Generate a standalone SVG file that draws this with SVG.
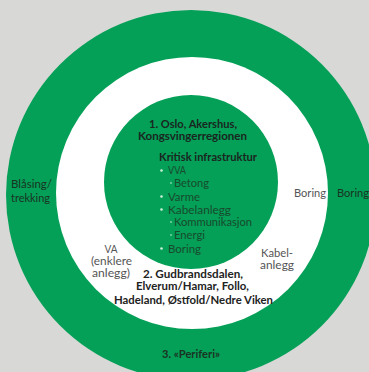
<svg xmlns="http://www.w3.org/2000/svg" width="369" height="372" viewBox="0 0 369 372">
<style>
text{font-family:Lato,"Open Sans","Liberation Sans",sans-serif;font-size:10.5px}
.b{font-weight:bold}
.h{fill:#1a261f}
.d{fill:#222}
.g{fill:#555}
.i{fill:#184a2d}
.o{fill:#1a3324}
.dot{fill:#cfeedb}
.m{text-anchor:middle}
</style>
<rect width="369" height="372" fill="#d8d8d6"/>
<g id="ring3"><circle cx="191" cy="195" r="185" fill="#04a057"/></g>
<g id="ring2"><circle cx="192" cy="193" r="136" fill="#ffffff"/></g>
<g id="ring1"><circle cx="191" cy="182" r="87" fill="#04a057"/></g>
<g id="connectors"/>
<g id="core">
<text class="b h" x="149" y="127.5" textLength="88" lengthAdjust="spacingAndGlyphs">1. Oslo, Akershus,</text>
<text class="b h" x="138" y="139.5" textLength="109" lengthAdjust="spacingAndGlyphs">Kongsvingerregionen</text>
<text class="b h" x="159" y="160.5" textLength="98" lengthAdjust="spacingAndGlyphs">Kritisk infrastruktur</text>
<circle class="dot" cx="161.5" cy="170.5" r="1.3"/>
<text class="i" x="168" y="174" textLength="18" lengthAdjust="spacingAndGlyphs">VVA</text>
<circle class="dot" cx="171" cy="183" r="0.8"/>
<text class="i" x="174" y="187" textLength="35" lengthAdjust="spacingAndGlyphs">Betong</text>
<circle class="dot" cx="161.5" cy="196.5" r="1.3"/>
<text class="i" x="168" y="200.5" textLength="32" lengthAdjust="spacingAndGlyphs">Varme</text>
<circle class="dot" cx="161.5" cy="209.5" r="1.3"/>
<text class="i" x="168" y="213.5" textLength="63" lengthAdjust="spacingAndGlyphs">Kabelanlegg</text>
<circle class="dot" cx="171" cy="222" r="0.8"/>
<text class="i" x="174" y="226" textLength="78" lengthAdjust="spacingAndGlyphs">Kommunikasjon</text>
<circle class="dot" cx="171" cy="235" r="0.8"/>
<text class="i" x="174" y="239" textLength="31" lengthAdjust="spacingAndGlyphs">Energi</text>
<circle class="dot" cx="161.5" cy="248.5" r="1.3"/>
<text class="i" x="168" y="252.5" textLength="33" lengthAdjust="spacingAndGlyphs">Boring</text>
</g>
<g id="middle">
<text class="g" x="104.5" y="252.5" textLength="13" lengthAdjust="spacingAndGlyphs">VA</text>
<text class="g" x="91" y="264.5" textLength="41" lengthAdjust="spacingAndGlyphs">(enklere</text>
<text class="g" x="92" y="277" textLength="38" lengthAdjust="spacingAndGlyphs">anlegg)</text>
<text class="g" x="294" y="197" textLength="32" lengthAdjust="spacingAndGlyphs">Boring</text>
<text class="g" x="261" y="257" textLength="32" lengthAdjust="spacingAndGlyphs">Kabel-</text>
<text class="g" x="260" y="268.5" textLength="34" lengthAdjust="spacingAndGlyphs">anlegg</text>
<text class="b d" x="143" y="277.5" textLength="100" lengthAdjust="spacingAndGlyphs">2. Gudbrandsdalen,</text>
<text class="b d" x="136" y="289.5" textLength="113" lengthAdjust="spacingAndGlyphs">Elverum/Hamar, Follo,</text>
<text class="b d" x="114" y="304" textLength="159" lengthAdjust="spacingAndGlyphs">Hadeland, Østfold/Nedre Viken</text>
</g>
<g id="outer">
<text class="o" x="11" y="188" textLength="41" lengthAdjust="spacingAndGlyphs">Blåsing/</text>
<text class="o" x="11" y="202" textLength="39" lengthAdjust="spacingAndGlyphs">trekking</text>
<text class="o" x="337" y="197" textLength="32" lengthAdjust="spacingAndGlyphs">Boring</text>
<text class="b o" x="162" y="357.5" textLength="58" lengthAdjust="spacingAndGlyphs">3. «Periferi»</text>
</g>
</svg>
